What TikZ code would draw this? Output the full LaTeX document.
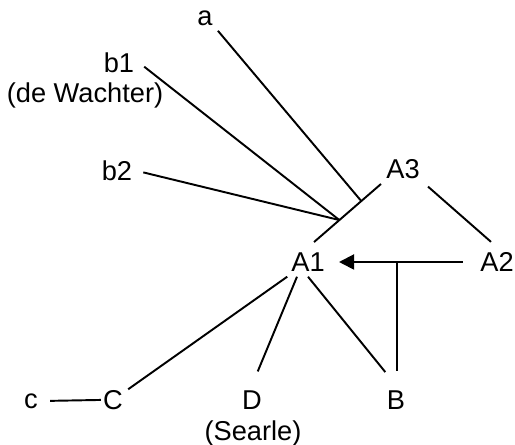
\documentclass[tikz,border=0pt]{standalone}
\usepackage{fontspec}
\setmainfont{Liberation Sans}
\usetikzlibrary{arrows.meta}

\tikzset{
  lbl/.style={inner sep=1mm, font=\fontsize{15.5}{18}\selectfont},
  link/.style={black, line width=1.1pt},
}

\begin{document}
\begin{tikzpicture}
\useasboundingbox (0,0) rectangle (10.3,8.9);

% upper left labels
\node[lbl] (a) at (4.10,8.54) {a};
\node[lbl] (b1) at (2.38,7.64) {b1};
\node[lbl] (b1note) at (1.70,7.00) {(de Wachter)};
\node[lbl] (b2) at (2.34,5.48) {b2};

% the A's
\node[lbl] (A3) at (8.06,5.52) {A3};
\node[lbl] (A1) at (6.16,3.66) {A1};
\node[lbl] (A2) at (9.94,3.66) {A2};

% bottom row
\node[lbl] (c) at (0.62,0.88) {c};
\node[lbl] (C) at (2.26,0.90) {C};
\node[lbl] (D) at (5.04,0.90) {D};
\node[lbl] (Dnote) at (5.06,0.24) {(Searle)};
\node[lbl] (B) at (7.92,0.90) {B};

% A3 to A1, a and b's meet it here
\draw[link, shorten >=1.6mm] (A3.south west) -- (A1.north)
  coordinate[pos=0.27] (ja) coordinate[pos=0.57] (jb);
\draw[link, shorten <=0.8mm, shorten >=1.6mm] (A3.south east) -- (A2.north);

\draw[link] (a.south east) -- (ja);
\draw[link, shorten <=1.2mm] (b1.east) -- (jb);
\draw[link, shorten <=1.2mm] (b2.east) -- (jb);

% arrow from A2 back to A1, with B hanging off it
\draw[link, -{Triangle[length=3mm,width=3mm]}, shorten <=2.4mm, shorten >=1.8mm] (A2.west) -- (A1.east);
\coordinate (jc) at (7.94,3.66);
\draw[link, shorten >=2.8mm] (jc) -- (jc |- B.north);

% A1 down to the bottom row
\draw[link] (A1) -- (C);
\draw[link, shorten >=3mm] ([xshift=-2.2mm]A1.south) -- (D.north);
\draw[link, shorten >=3.4mm] (A1.south) -- (B.north);
\draw[link, shorten <=1.4mm, shorten >=-0.6mm] (c.east) -- (C.west);

\end{tikzpicture}
\end{document}
